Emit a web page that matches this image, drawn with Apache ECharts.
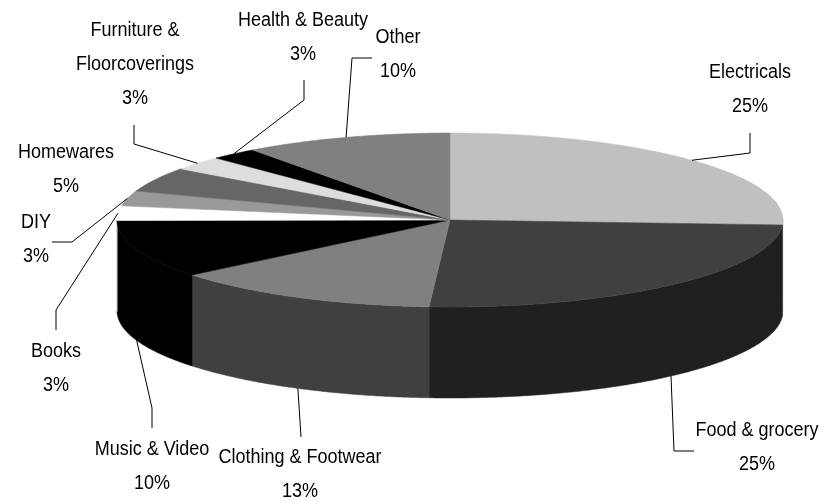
<!DOCTYPE html>
<html>
<head>
<meta charset="utf-8">
<style>html,body{margin:0;padding:0;background:#fff}#c{width:826px;height:503px}</style>
<script src="https://cdn.jsdelivr.net/npm/echarts@6/dist/echarts.min.js"></script>
</head>
<body>
<div id="c"></div>
<script>
const categories = ['Electricals','Food & grocery','Clothing & Footwear','Music & Video','Books','DIY','Homewares','Furniture &\nFloorcoverings','Health & Beauty','Other'];
const values = [25.9,25.1,13.1,10.8,2.7,2.8,4.6,2.6,2.3,10.1];
const percentLabels = ['25%','25%','13%','10%','3%','3%','5%','3%','3%','10%'];
const topColors = ['#c0c0c0','#404040','#808080','#000000','#ffffff','#999999','#666666','#dddddd','#000000','#808080'];
const sideColors = ['#bfbfbf','#202020','#404040','#000000','#ffffff','#777777','#444444','#aaaaaa','#000000','#606060'];
// label block centre [x, y] in pixels
const labelCentres = [[750,89],[757,447],[300,474],[152,466],[56,368],[36,239],[66,169],[135,64],[303,37],[398,54]];
// leader line elbow points in pixels (starting from the slice edge)
const leaderPaths = [
  [[750,153],[750,133]],
  [[674,451],[694,451]],
  [[301,437]],
  [[152,408],[152,428]],
  [[56,310],[56,330]],
  [[72,242],[52,242]],
  null,
  [[134,144],[134,125]],
  [[304,100],[304,80]],
  [[352,58],[372,58]]
];
const DEPTH = 91 / 87;
const total = values.reduce((a, b) => a + b, 0);
let run = 0;
const slices = values.map(v => { const s = run; run += v; return [s / total * 360, run / total * 360]; });
const rad = d => d * Math.PI / 180;
const unit = (deg, drop) => [Math.sin(rad(deg)), Math.cos(rad(deg)) - (drop || 0)];
const arc = (a, b, drop, coord) => {
  const pts = [], n = Math.max(2, Math.ceil(Math.abs(b - a) / 0.5));
  for (let i = 0; i <= n; i++) pts.push(coord(unit(a + (b - a) * i / n, drop)));
  return pts;
};
function renderTop(params, api) {
  const i = params.dataIndex, a = api.value(0), b = api.value(1);
  const pts = [api.coord([0, 0])].concat(arc(a, b, 0, api.coord));
  return { type: 'polygon', shape: { points: pts }, style: { fill: topColors[i], stroke: topColors[i], lineWidth: 0.5 } };
}
function renderSide(params, api) {
  const i = params.dataIndex;
  const a = Math.max(api.value(0), 90), b = Math.min(api.value(1), 270);
  if (b <= a) return null;
  const pts = arc(a, b, 0, api.coord).concat(arc(b, a, DEPTH, api.coord));
  return { type: 'polygon', shape: { points: pts }, style: { fill: sideColors[i], stroke: sideColors[i], lineWidth: 0.5 } };
}
function renderLabel(params, api) {
  const i = params.dataIndex, a = api.value(0), b = api.value(1), mid = (a + b) / 2;
  const onFront = mid > 90 && mid < 270;
  const anchor = api.coord(unit(mid, onFront ? DEPTH : 0));
  const children = [];
  if (leaderPaths[i]) {
    children.push({ type: 'polyline', shape: { points: [anchor].concat(leaderPaths[i]) },
      style: { fill: 'none', stroke: '#000', lineWidth: 1 } });
  }
  children.push({ type: 'text', x: labelCentres[i][0], y: labelCentres[i][1], scaleX: 0.9,
    style: { text: categories[i] + '\n' + percentLabels[i], fontFamily: '"Liberation Sans", Arial, sans-serif',
      fontSize: 20, lineHeight: 34, fill: '#000', align: 'center', verticalAlign: 'middle' } });
  return { type: 'group', children };
}
const chart = echarts.init(document.getElementById('c'), null, { renderer: 'canvas' });
chart.setOption({
  animation: false,
  backgroundColor: '#ffffff',
  grid: { left: 117, top: 133, width: 666, height: 174 },
  xAxis: { type: 'value', min: -1, max: 1, show: false },
  yAxis: { type: 'value', min: -1, max: 1, show: false },
  tooltip: { show: false },
  series: [
    { type: 'custom', name: 'sides', renderItem: renderSide, data: slices, z: 1, silent: true },
    { type: 'custom', name: 'tops', renderItem: renderTop, data: slices, z: 2, silent: true },
    { type: 'custom', name: 'labels', renderItem: renderLabel, data: slices, z: 3, silent: true }
  ]
});
</script>
</body>
</html>
